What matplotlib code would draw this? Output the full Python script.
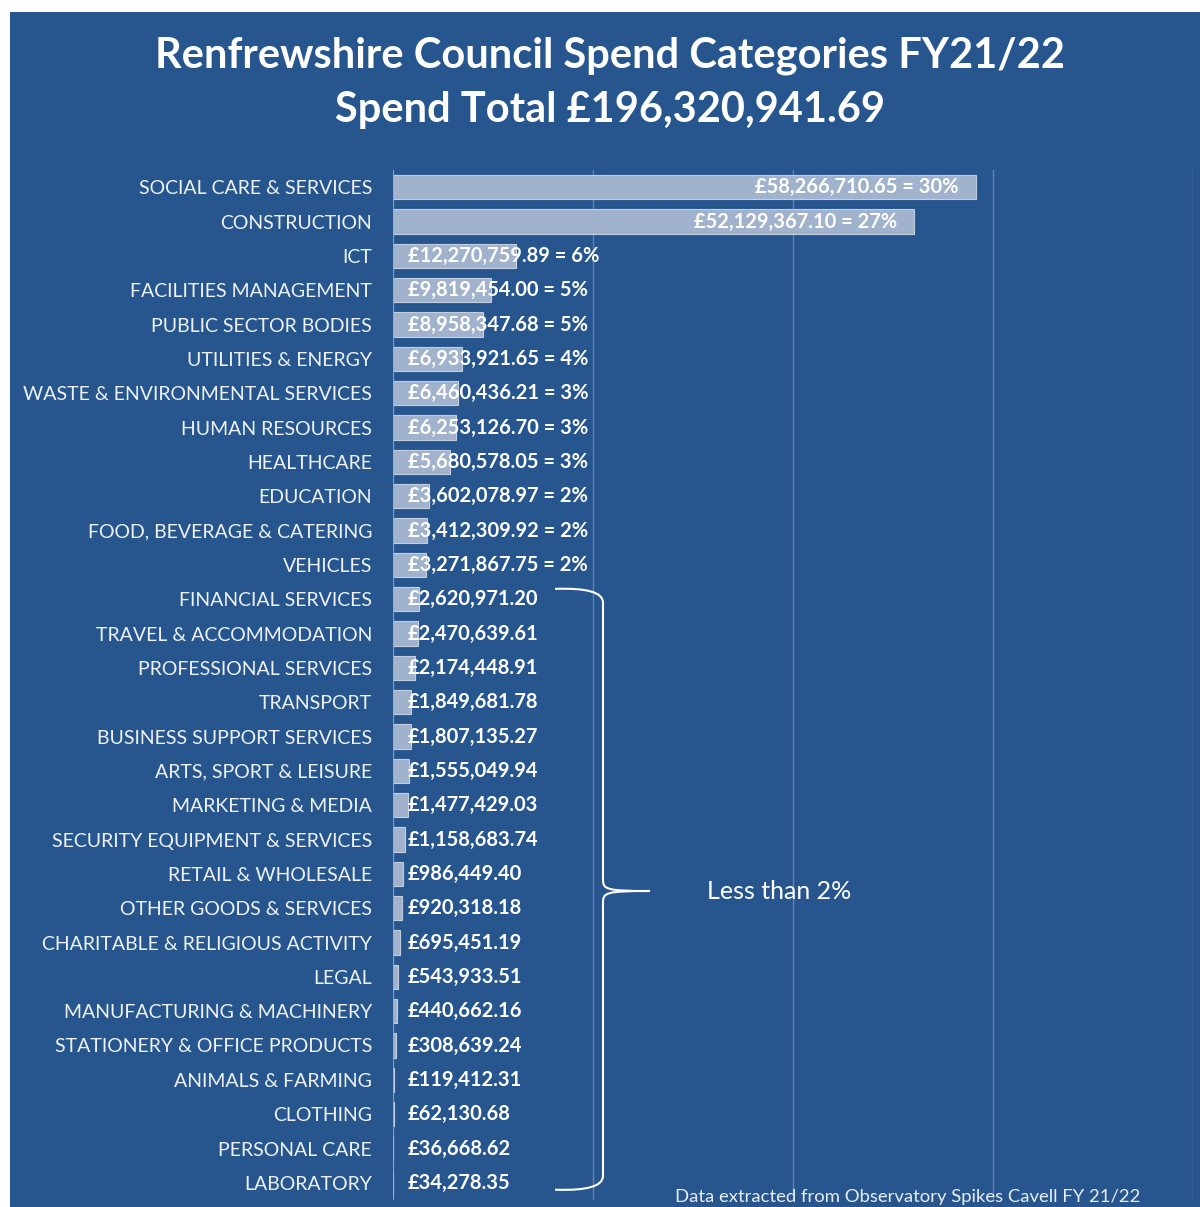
import matplotlib.pyplot as plt
import matplotlib.patches as mpatches
from matplotlib.path import Path

categories = [
    "SOCIAL CARE & SERVICES", "CONSTRUCTION", "ICT", "FACILITIES MANAGEMENT",
    "PUBLIC SECTOR BODIES", "UTILITIES & ENERGY", "WASTE & ENVIRONMENTAL SERVICES",
    "HUMAN RESOURCES", "HEALTHCARE", "EDUCATION", "FOOD, BEVERAGE & CATERING",
    "VEHICLES", "FINANCIAL SERVICES", "TRAVEL & ACCOMMODATION",
    "PROFESSIONAL SERVICES", "TRANSPORT", "BUSINESS SUPPORT SERVICES",
    "ARTS, SPORT & LEISURE", "MARKETING & MEDIA", "SECURITY EQUIPMENT & SERVICES",
    "RETAIL & WHOLESALE", "OTHER GOODS & SERVICES", "CHARITABLE & RELIGIOUS ACTIVITY",
    "LEGAL", "MANUFACTURING & MACHINERY", "STATIONERY & OFFICE PRODUCTS",
    "ANIMALS & FARMING", "CLOTHING", "PERSONAL CARE", "LABORATORY",
]
spend = [
    58266710.65, 52129367.10, 12270759.89, 9819454.00, 8958347.68, 6933921.65,
    6460436.21, 6253126.70, 5680578.05, 3602078.97, 3412309.92, 3271867.75,
    2620971.20, 2470639.61, 2174448.91, 1849681.78, 1807135.27, 1555049.94,
    1477429.03, 1158683.74, 986449.40, 920318.18, 695451.19, 543933.51,
    440662.16, 308639.24, 119412.31, 62130.68, 36668.62, 34278.35,
]
total = 196320941.69

BG = "#27568F"
BAR = "#A0B2CC"
FONT = "Lato"

fig = plt.figure(figsize=(12, 12.07), dpi=100, facecolor="white")
fig.patches.append(mpatches.Rectangle((10 / 1200, 0), 1, 1 - 12 / 1207,
                                      transform=fig.transFigure, facecolor=BG,
                                      edgecolor="none", zorder=-5))

ax = fig.add_axes([393 / 1200, 7 / 1207, 800 / 1200, 1030 / 1207])
ax.set_facecolor(BG)
ypos = list(range(len(categories)))
ax.barh(ypos, spend, height=0.7, color=BAR, edgecolor="#C3CFE0", linewidth=0.8, zorder=2)
ax.set_xlim(0, 80e6)
ax.set_ylim(len(categories) - 0.5, -0.5)
ax.set_xticks([0, 20e6, 40e6, 60e6, 80e6])
ax.xaxis.grid(True, color="#6283B0", linewidth=1)
ax.set_axisbelow(True)
ax.tick_params(axis="x", length=0, labelbottom=False)
ax.tick_params(axis="y", length=0, pad=15)
ax.set_yticks(ypos)
ax.set_yticklabels(categories, fontsize=14, color="#EEF2F8", family=FONT)
for s in ax.spines.values():
    s.set_visible(False)
ax.axvline(0, color="#8FA6C6", linewidth=1.2, zorder=3)

for i, v in enumerate(spend):
    pct = round(v / total * 100)
    txt = f"£{v:,.2f}"
    if pct >= 2:
        txt += f" = {pct}%"
    if v > 40e6:
        ax.text(v - 1.7e6, i, txt, ha="right", va="center", color="white",
                fontsize=14.5, fontweight="bold", family=FONT, zorder=4)
    else:
        ax.text(1.5e6, i, txt, ha="left", va="center", color="white",
                fontsize=14.5, fontweight="bold", family=FONT, zorder=4)

# curly brace grouping the categories below 2%
x0, x1, xt = 16.2e6, 21.0e6, 25.7e6
y0, ym, y1 = 11.7, 20.5, 29.2
verts = [(x0, y0), (x1, y0 - 0.05), (x1, y0 + 0.4),
         (x1, ym - 0.35),
         (x1, ym - 0.05), (x1 + 0.2e6, ym), (xt, ym),
         (x1 + 0.2e6, ym), (x1, ym + 0.05), (x1, ym + 0.35),
         (x1, y1 - 0.4),
         (x1, y1 + 0.05), (x0, y1)]
codes = [Path.MOVETO, Path.CURVE3, Path.CURVE3, Path.LINETO,
         Path.CURVE4, Path.CURVE4, Path.CURVE4,
         Path.CURVE4, Path.CURVE4, Path.CURVE4,
         Path.LINETO, Path.CURVE3, Path.CURVE3]
ax.add_patch(mpatches.PathPatch(Path(verts, codes), facecolor="none",
                                edgecolor="white", linewidth=1.5, zorder=4, clip_on=False))
ax.text(31.4e6, ym, "Less than 2%", ha="left", va="center", color="white",
        fontsize=18, family=FONT)

fig.text(610 / 1200, 1 - 56 / 1207, "Renfrewshire Council Spend Categories FY21/22",
         ha="center", va="center", color="white", fontsize=30, fontweight="bold", family=FONT)
fig.text(610 / 1200, 1 - 110 / 1207, "Spend Total £196,320,941.69",
         ha="center", va="center", color="white", fontsize=30, fontweight="bold", family=FONT)
fig.text(1140 / 1200, 1 - 1197 / 1207, "Data extracted from Observatory Spikes Cavell FY 21/22",
         ha="right", va="center", color="#E8EDF5", fontsize=13.3, family=FONT)

fig.savefig("out.png", dpi=100, facecolor=fig.get_facecolor())
